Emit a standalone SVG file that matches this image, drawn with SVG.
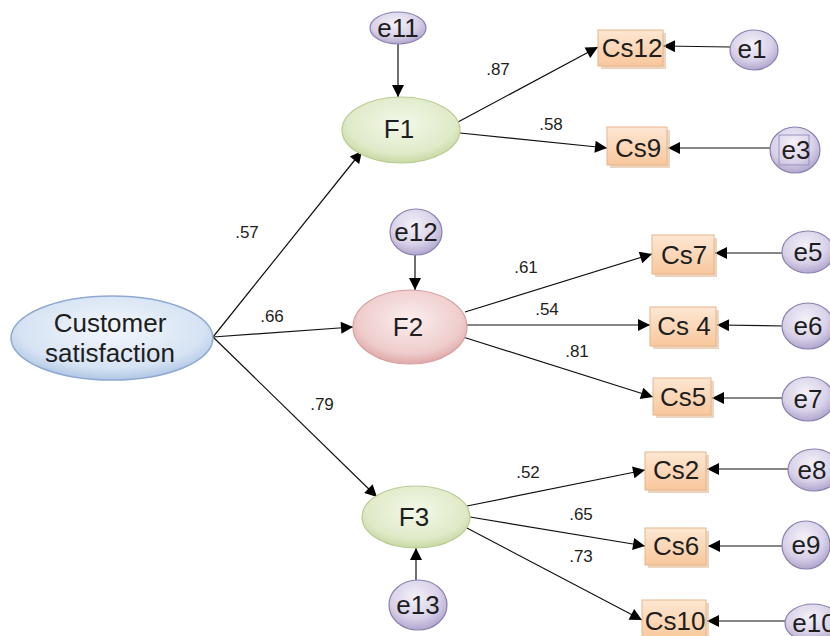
<svg xmlns="http://www.w3.org/2000/svg" width="830" height="636" viewBox="0 0 830 636">
  <defs>
    <radialGradient id="gE" cx="45%" cy="35%" r="70%">
      <stop offset="0" stop-color="#f4f1f9"/>
      <stop offset="0.6" stop-color="#d8d1e8"/>
      <stop offset="1" stop-color="#a99dc8"/>
    </radialGradient>
    <radialGradient id="gGreen" cx="50%" cy="40%" r="65%">
      <stop offset="0" stop-color="#f3f8e9"/>
      <stop offset="0.7" stop-color="#dfeac8"/>
      <stop offset="1" stop-color="#bfd396"/>
    </radialGradient>
    <radialGradient id="gPink" cx="50%" cy="40%" r="65%">
      <stop offset="0" stop-color="#fbeeee"/>
      <stop offset="0.7" stop-color="#efcccc"/>
      <stop offset="1" stop-color="#d99c9c"/>
    </radialGradient>
    <radialGradient id="gBlue" cx="50%" cy="40%" r="65%">
      <stop offset="0" stop-color="#f3f7fc"/>
      <stop offset="0.7" stop-color="#d6e3f3"/>
      <stop offset="1" stop-color="#a3bde0"/>
    </radialGradient>
    <linearGradient id="gBox" x1="0" y1="0" x2="0" y2="1">
      <stop offset="0" stop-color="#fde7d3"/>
      <stop offset="1" stop-color="#f8c79c"/>
    </linearGradient>
    <marker id="arr" viewBox="0 0 10 10" refX="10" refY="5" markerWidth="14" markerHeight="12" markerUnits="userSpaceOnUse" orient="auto">
      <path d="M0,0 L10,5 L0,10 z" fill="#000"/>
    </marker>
  </defs>
  <style>
    text { font-family: "Liberation Sans", Arial, sans-serif; fill: #1e1e1e; text-anchor: middle; }
    .nl { font-size: 26px; }
    .el { font-size: 17px; }
    .err { fill: url(#gE); stroke: #8a80b0; stroke-width: 1.2; }
    .box { fill: url(#gBox); stroke: #e6b58a; stroke-width: 1; }
    .shadow { fill: #e0b894; opacity: 0.6; }
    .conn line { stroke: #111; stroke-width: 1.2; marker-end: url(#arr); }
  </style>

  <rect width="830" height="636" fill="#fff"/>

  <!-- connectors -->
  <g class="conn" id="connectors">
    <line x1="213" y1="337" x2="362" y2="151"/>
    <line x1="213" y1="337" x2="353" y2="327"/>
    <line x1="213" y1="337" x2="377" y2="497"/>
    <line x1="398" y1="44" x2="398" y2="97"/>
    <line x1="415" y1="255" x2="415" y2="290"/>
    <line x1="416" y1="580" x2="416" y2="548"/>
    <line x1="458" y1="122" x2="598" y2="47"/>
    <line x1="460" y1="133" x2="607" y2="148"/>
    <line x1="465" y1="312" x2="652" y2="254"/>
    <line x1="467" y1="325" x2="650" y2="325"/>
    <line x1="463" y1="337" x2="653" y2="397"/>
    <line x1="467" y1="506" x2="645" y2="470"/>
    <line x1="470" y1="517" x2="645" y2="546"/>
    <line x1="465" y1="527" x2="642" y2="620"/>
    <line x1="730" y1="47" x2="663" y2="46"/>
    <line x1="770" y1="148" x2="668" y2="148"/>
    <line x1="782" y1="253" x2="715" y2="253"/>
    <line x1="783" y1="326" x2="717" y2="325"/>
    <line x1="783" y1="398" x2="712" y2="398"/>
    <line x1="788" y1="469" x2="707" y2="469"/>
    <line x1="782" y1="546" x2="708" y2="546"/>
    <line x1="785" y1="621" x2="707" y2="621"/>
  </g>

  <!-- edge weights -->
  <g id="weights">
    <text class="el" x="247" y="238">.57</text>
    <text class="el" x="272" y="322">.66</text>
    <text class="el" x="322" y="410">.79</text>
    <text class="el" x="498" y="75">.87</text>
    <text class="el" x="551" y="130">.58</text>
    <text class="el" x="526" y="273">.61</text>
    <text class="el" x="547" y="315">.54</text>
    <text class="el" x="577" y="357">.81</text>
    <text class="el" x="528" y="478">.52</text>
    <text class="el" x="581" y="520">.65</text>
    <text class="el" x="581" y="562">.73</text>
  </g>

  <!-- latent factors -->
  <g id="cs">
    <ellipse cx="112" cy="338" rx="101" ry="42" fill="url(#gBlue)" stroke="#8faad0" stroke-width="1.5"/>
    <text class="nl" x="110" y="332">Customer</text>
    <text class="nl" x="110" y="362">satisfaction</text>
  </g>
  <g id="F1">
    <ellipse cx="401" cy="130" rx="59" ry="33" fill="url(#gGreen)" stroke="#b9cc93" stroke-width="1.2"/>
    <text class="nl" x="399" y="138">F1</text>
  </g>
  <g id="F2">
    <ellipse cx="410" cy="327" rx="57" ry="37" fill="url(#gPink)" stroke="#d9a0a0" stroke-width="1.2"/>
    <text class="nl" x="408" y="336">F2</text>
  </g>
  <g id="F3">
    <ellipse cx="416" cy="517" rx="54" ry="31" fill="url(#gGreen)" stroke="#b9cc93" stroke-width="1.2"/>
    <text class="nl" x="414" y="526">F3</text>
  </g>

  <!-- disturbance terms -->
  <g id="e11">
    <ellipse cx="398" cy="28" rx="28" ry="16" class="err"/>
    <text class="nl" x="398" y="37">e11</text>
  </g>
  <g id="e12">
    <ellipse cx="416" cy="232" rx="26" ry="23" class="err"/>
    <text class="nl" x="416" y="241">e12</text>
  </g>
  <g id="e13">
    <ellipse cx="418" cy="605" rx="29" ry="25" class="err"/>
    <text class="nl" x="418" y="614">e13</text>
  </g>

  <!-- indicators -->
  <g id="Cs12">
    <rect x="601" y="33" width="65" height="36" class="shadow"/>
    <rect x="598" y="30" width="65" height="36" class="box"/>
    <text class="nl" x="632" y="57">Cs12</text>
  </g>
  <g id="Cs9">
    <rect x="610" y="130" width="60" height="38" class="shadow"/>
    <rect x="607" y="127" width="60" height="38" class="box"/>
    <text class="nl" x="638" y="157">Cs9</text>
  </g>
  <g id="Cs7">
    <rect x="655" y="238" width="62" height="39" class="shadow"/>
    <rect x="652" y="235" width="62" height="39" class="box"/>
    <text class="nl" x="684" y="264">Cs7</text>
  </g>
  <g id="Cs4">
    <rect x="653" y="310" width="66" height="39" class="shadow"/>
    <rect x="650" y="307" width="66" height="39" class="box"/>
    <text class="nl" x="684" y="335">Cs 4</text>
  </g>
  <g id="Cs5">
    <rect x="656" y="381" width="58" height="37" class="shadow"/>
    <rect x="653" y="378" width="58" height="37" class="box"/>
    <text class="nl" x="683" y="406">Cs5</text>
  </g>
  <g id="Cs2">
    <rect x="648" y="455" width="61" height="38" class="shadow"/>
    <rect x="645" y="452" width="61" height="38" class="box"/>
    <text class="nl" x="676" y="479">Cs2</text>
  </g>
  <g id="Cs6">
    <rect x="648" y="531" width="61" height="37" class="shadow"/>
    <rect x="645" y="528" width="61" height="37" class="box"/>
    <text class="nl" x="676" y="555">Cs6</text>
  </g>
  <g id="Cs10">
    <rect x="645" y="603" width="64" height="40" class="shadow"/>
    <rect x="642" y="600" width="64" height="40" class="box"/>
    <text class="nl" x="675" y="630">Cs10</text>
  </g>

  <!-- measurement errors -->
  <g id="e1">
    <ellipse cx="754" cy="50" rx="24" ry="20" class="err"/>
    <text class="nl" x="752" y="58">e1</text>
  </g>
  <g id="e3">
    <ellipse cx="795" cy="150" rx="25" ry="23" class="err"/>
    <rect x="779" y="135" width="30" height="30" fill="none" stroke="#9b92bd" stroke-width="1"/>
    <text class="nl" x="796" y="159">e3</text>
  </g>
  <g id="e5">
    <ellipse cx="808" cy="252" rx="26" ry="21" class="err"/>
    <text class="nl" x="808" y="261">e5</text>
  </g>
  <g id="e6">
    <ellipse cx="808" cy="326" rx="26" ry="23" class="err"/>
    <text class="nl" x="808" y="335">e6</text>
  </g>
  <g id="e7">
    <ellipse cx="808" cy="399" rx="26" ry="22" class="err"/>
    <text class="nl" x="808" y="408">e7</text>
  </g>
  <g id="e8">
    <ellipse cx="814" cy="470" rx="26" ry="21" class="err"/>
    <text class="nl" x="812" y="479">e8</text>
  </g>
  <g id="e9">
    <ellipse cx="806" cy="545" rx="24" ry="24" class="err"/>
    <text class="nl" x="806" y="554">e9</text>
  </g>
  <g id="e10">
    <ellipse cx="813" cy="623" rx="28" ry="19" class="err"/>
    <text class="nl" x="814" y="632">e10</text>
  </g>
</svg>
